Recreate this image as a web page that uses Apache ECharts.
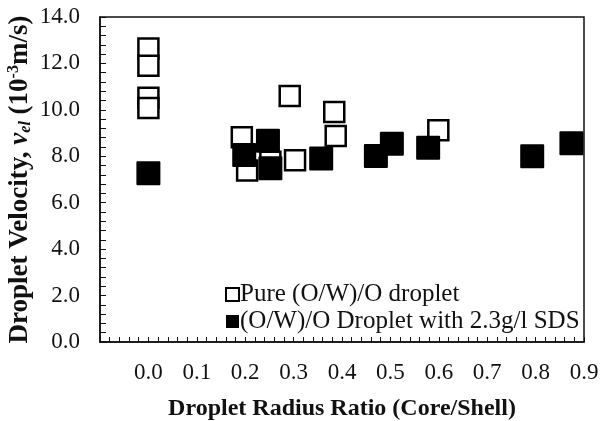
<!DOCTYPE html>
<html>
<head>
<meta charset="utf-8">
<script src="https://cdn.jsdelivr.net/npm/echarts@6/dist/echarts.min.js"></script>
<style>
  html, body { margin: 0; padding: 0; background: #fff; }
  #chart { width: 603px; height: 421px; }
</style>
</head>
<body>
<div id="chart"></div>
<script>
// pure (O/W)/O droplets - hollow squares
var pureX = [0.0, 0.0, 0.0, 0.0, 0.193, 0.204, 0.252, 0.303, 0.292, 0.384, 0.387, 0.599];
var pureY = [12.64, 11.9, 10.52, 10.08, 8.82, 7.39, 7.76, 7.83, 10.6, 9.91, 8.87, 9.12];
// with 2.3 g/l SDS - filled squares
var sdsX = [0.0, 0.198, 0.247, 0.252, 0.357, 0.470, 0.503, 0.578, 0.793, 0.874];
var sdsY = [7.27, 8.06, 8.67, 7.48, 7.91, 8.01, 8.54, 8.37, 8.0, 8.56];

var seriesNames = ['Pure (O/W)/O droplet', '(O/W)/O Droplet with 2.3g/l SDS'];

var serif = '"Liberation Serif", "Times New Roman", serif';

function pairs(xs, ys) {
    var res = [];
    for (var i = 0; i < xs.length; i++) {
        res.push([xs[i], ys[i]]);
    }
    return res;
}

var chart = echarts.init(document.getElementById('chart'));

var option = {
    backgroundColor: '#fff',
    animation: false,
    grid: {
        left: 100,
        right: 19,
        top: 17,
        bottom: 79,
        outerBoundsMode: 'none',
        containLabel: false,
        show: true,
        borderColor: '#111',
        borderWidth: 1.5
    },
    legend: {
        orient: 'vertical',
        left: 220,
        top: 277,
        itemWidth: 13,
        itemHeight: 13,
        itemGap: 2,
        textStyle: {
            fontFamily: serif,
            fontSize: 25,
            color: '#111',
            padding: [0, 0, 0, -4]
        },
        data: [
            {name: seriesNames[0], icon: 'rect', itemStyle: {color: '#fff', borderColor: '#000', borderWidth: 2, opacity: 1}},
            {name: seriesNames[1], icon: 'rect', itemStyle: {color: '#000', borderWidth: 0, opacity: 1}}
        ]
    },
    xAxis: {
        type: 'value',
        min: -0.1,
        max: 0.9,
        interval: 0.1,
        name: 'Droplet Radius Ratio (Core/Shell)',
        nameLocation: 'middle',
        nameGap: 55,
        nameTextStyle: {
            fontFamily: serif,
            fontSize: 24,
            fontWeight: 'bold',
            color: '#111'
        },
        axisLine: {show: true, onZero: false, lineStyle: {color: '#111', width: 1.5}},
        axisTick: {show: true, inside: true, length: 5, lineStyle: {color: '#111'}},
        minorTick: {show: true, splitNumber: 5, length: 5, lineStyle: {color: '#111'}},
        splitLine: {show: false},
        axisLabel: {
            margin: 19,
            fontFamily: serif,
            fontSize: 23,
            color: '#111',
            formatter: function (v) {
                if (v < -0.05) return '';
                if (Math.abs(v) < 1e-9) return '0.0';
                return v.toFixed(1);
            }
        }
    },
    yAxis: {
        type: 'value',
        min: 0,
        max: 14,
        interval: 2,
        name: '{b|Droplet Velocity, }{i|v}{sub|el}{b| (10}{sup|-3}{b|m/s)}',
        nameLocation: 'middle',
        nameRotate: 90,
        nameGap: 66,
        nameMoveOverlap: false,
        nameTextStyle: {
            fontFamily: serif,
            fontSize: 27,
            fontWeight: 'bold',
            color: '#111',
            rich: {
                b: {fontFamily: serif, fontSize: 27, fontWeight: 'bold', color: '#111', lineHeight: 28},
                i: {fontFamily: serif, fontSize: 27, fontWeight: 'bold', fontStyle: 'italic', color: '#111', lineHeight: 28},
                sub: {fontFamily: serif, fontSize: 16, fontWeight: 'bold', fontStyle: 'italic', color: '#111', verticalAlign: 'bottom', lineHeight: 28},
                sup: {fontFamily: serif, fontSize: 16, fontWeight: 'bold', color: '#111', verticalAlign: 'top', lineHeight: 28}
            }
        },
        axisLine: {show: true, onZero: false, lineStyle: {color: '#111', width: 1.5}},
        axisTick: {show: true, inside: true, length: 6, lineStyle: {color: '#111'}},
        minorTick: {show: true, splitNumber: 5, length: 6, lineStyle: {color: '#111'}},
        splitLine: {show: false},
        axisLabel: {
            margin: 20,
            fontFamily: serif,
            fontSize: 23,
            color: '#111',
            formatter: function (v) {
                return v.toFixed(1);
            }
        }
    },
    series: [
        {
            name: seriesNames[0],
            type: 'scatter',
            symbol: 'rect',
            symbolSize: 20,
            z: 2,
            itemStyle: {
                color: '#fff',
                borderColor: '#000',
                borderWidth: 2.5,
                opacity: 1
            },
            data: pairs(pureX, pureY)
        },
        {
            name: seriesNames[1],
            type: 'scatter',
            symbol: 'rect',
            symbolSize: 22,
            z: 3,
            itemStyle: {
                color: '#000',
                borderColor: '#000',
                borderWidth: 2,
                borderJoin: 'round',
                opacity: 1
            },
            data: pairs(sdsX, sdsY)
        }
    ]
};

chart.setOption(option);
</script>
</body>
</html>
